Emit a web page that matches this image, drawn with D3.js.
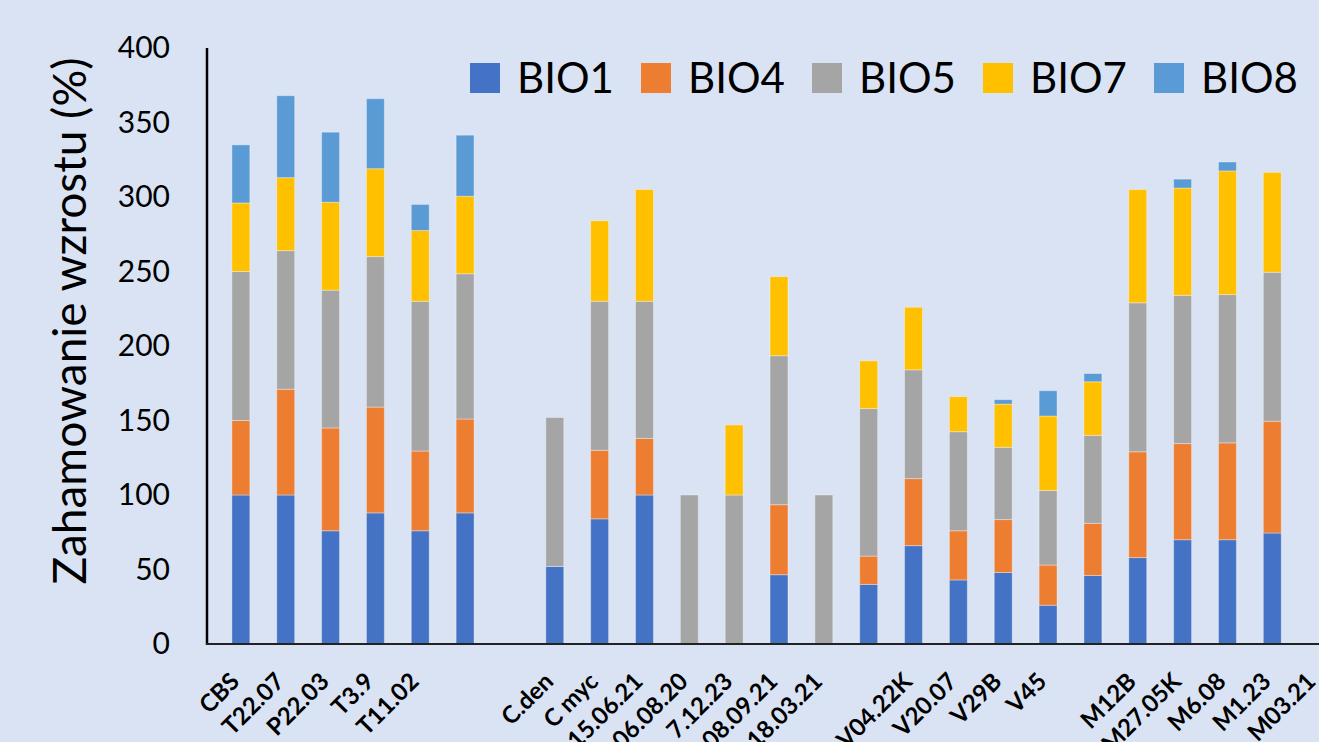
<!DOCTYPE html>
<meta charset="utf-8">
<style>
  html, body { margin: 0; padding: 0; background: #dae3f3; }
  svg { display: block; font-family: Lato, "Open Sans", sans-serif; }
  .tick text { fill: #000; font-family: Lato, "Open Sans", sans-serif; }
  .xlab { font-weight: bold; font-size: 24px; fill: #000; }
</style>
<script src="https://cdn.jsdelivr.net/npm/d3@7"></script>
<body>
<svg id="chart"></svg>
<script>
// categories ("" = unlabelled slot in the original)
var categories = ["CBS", "T22.07", "P22.03", "T3.9", "T11.02", "", "",
  "C.den", "C myc", "15.06.21", "06.08.20", "7.12.23", "08.09.21", "18.03.21", "",
  "V04.22K", "V20.07", "V29B", "V45", "",
  "M12B", "M27.05K", "M6.08", "M1.23", "M03.21"];

var seriesNames = ["BIO1", "BIO4", "BIO5", "BIO7", "BIO8"];
var colors = ["#4472c4", "#ed7d31", "#a5a5a5", "#ffc000", "#5b9bd5"];

var bio1 = [100, 100, 76, 88, 76, 88, 0, 52, 84, 100, 0, 0, 46.5, 0, 40, 66, 43, 48, 26, 46, 58, 70, 70, 74.5, 0];
var bio4 = [50, 71, 69, 71, 53.5, 63, 0, 0, 46, 38, 0, 0, 47, 0, 19, 45, 33, 35.5, 27, 35, 71, 64.5, 65, 75, 0];
var bio5 = [100, 93, 92.5, 101, 100.5, 97.5, 0, 100, 100, 92, 100, 100, 100, 100, 99, 73, 66.5, 48.5, 50, 59, 100, 99.5, 99.5, 100, 0];
var bio7 = [46, 49, 59, 59, 47.5, 52, 0, 0, 54, 75, 0, 47, 53, 0, 32, 42, 23.5, 29, 50, 36, 76, 72, 83, 67, 0];
var bio8 = [39, 55, 47, 47, 17.5, 41, 0, 0, 0, 0, 0, 0, 0, 0, 0, 0, 0, 3, 17, 5.5, 0, 6, 6, 0, 0];

var yTicks = [0, 50, 100, 150, 200, 250, 300, 350, 400];

var width = 1319, height = 742;
var svg = d3.select('#chart').attr('width', width).attr('height', height);

// table for the stack
var table = categories.map(function(c, i) {
  return { i: i, BIO1: bio1[i], BIO4: bio4[i], BIO5: bio5[i], BIO7: bio7[i], BIO8: bio8[i] };
});
var stacked = d3.stack().keys(seriesNames)(table);

var x = d3.scaleBand().domain(d3.range(categories.length)).range([205, 1353]).padding(0.6);
var y = d3.scaleLinear().domain([0, 400]).range([644, 48]);

// bars
svg.append('g').selectAll('g')
  .data(stacked)
  .join('g')
    .attr('fill', function(d, k) { return colors[k]; })
  .selectAll('rect')
  .data(function(d) { return d.filter(function(s) { return s[1] - s[0] > 0; }); })
  .join('rect')
    .attr('x', function(d) { return x(d.data.i); })
    .attr('width', x.bandwidth())
    .attr('y', function(d) { return y(d[1]); })
    .attr('height', function(d) { return y(d[0]) - y(d[1]); })
    .attr('stroke', 'rgba(255,255,255,0.35)')
    .attr('stroke-width', 1);

// y axis
var yAxis = d3.axisLeft(y).tickValues(yTicks).tickSize(0).tickPadding(37);
var gy = svg.append('g').attr('transform', 'translate(207,0)').call(yAxis)
  .attr('font-family', null);
gy.select('.domain').remove();
gy.selectAll('text').style('font-size', '30px');

svg.append('line')
  .attr('x1', 207).attr('x2', 207).attr('y1', y(400)).attr('y2', y(0) + 1)
  .attr('stroke', '#000').attr('stroke-width', 2.5);
svg.append('line')
  .attr('x1', 206).attr('x2', width).attr('y1', y(0)).attr('y2', y(0))
  .attr('stroke', '#222').attr('stroke-width', 2);

// x labels, rotated (the lowest ones run past the bottom edge, as in the original)
svg.append('g').selectAll('text')
  .data(categories)
  .join('text')
    .attr('class', 'xlab')
    .attr('text-anchor', 'end')
    .attr('transform', function(d, i) {
      return 'translate(' + (x(i) + x.bandwidth() / 2) + ',683) rotate(-45)';
    })
    .text(function(d) { return d; });

// y title
svg.append('text')
  .attr('transform', 'translate(86,321) rotate(-90)')
  .attr('text-anchor', 'middle')
  .style('font-size', '46px')
  .text('Zahamowanie wzrostu (%)');

// legend
var legend = svg.append('g').selectAll('g')
  .data(seriesNames)
  .join('g')
    .attr('transform', function(d, k) { return 'translate(' + (470 + k * 171) + ',63)'; });
legend.append('rect')
  .attr('width', 30).attr('height', 30)
  .attr('fill', function(d, k) { return colors[k]; });
legend.append('text')
  .attr('x', 47).attr('y', 30)
  .style('font-size', '42px')
  .text(function(d) { return d; });
</script>
</body>
